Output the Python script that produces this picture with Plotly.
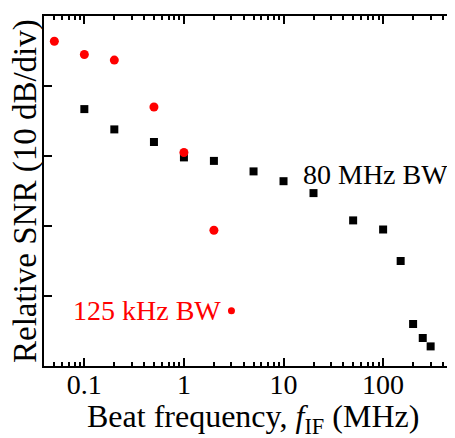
import plotly.graph_objects as go

# beat frequency (MHz) and relative SNR (dB)
f_narrow = [0.05, 0.1, 0.2, 0.5, 1, 2]
snr_narrow = [46.4, 44.5, 43.7, 37.0, 30.5, 19.4]

f_wide = [0.1, 0.2, 0.5, 1, 2, 5, 10, 20, 50, 100, 150, 200, 250, 300]
snr_wide = [36.7, 33.8, 32.0, 29.8, 29.3, 27.8, 26.4, 24.7, 20.8, 19.5, 15.0, 6.0, 4.0, 2.8]

# small red dot next to the "125 kHz BW" label
f_key = [3]
snr_key = [7.9]

red = "#ff0000"
font = "Liberation Serif"

fig = go.Figure()
fig.add_trace(go.Scatter(x=f_wide, y=snr_wide, mode="markers",
                         marker=dict(symbol="square", size=8, color="black")))
fig.add_trace(go.Scatter(x=f_narrow, y=snr_narrow, mode="markers",
                         marker=dict(symbol="circle", size=9, color=red)))
fig.add_trace(go.Scatter(x=f_key, y=snr_key, mode="markers",
                         marker=dict(symbol="circle", size=7, color=red)))

fig.add_annotation(x=1.172, y=27.4, xref="x", yref="y", text="80 MHz BW",
                   xanchor="left", yanchor="middle", showarrow=False,
                   font=dict(family=font, size=28, color="black"))
fig.add_annotation(x=-1.129, y=7.9, xref="x", yref="y", text="125 kHz BW",
                   xanchor="left", yanchor="middle", showarrow=False,
                   font=dict(family=font, size=28, color=red))

# axis titles as annotations so the plot area stays put
fig.add_annotation(x=0.5, y=-0.15, xref="paper", yref="paper",
                   text="Beat frequency, <i>f</i><sub>IF</sub> (MHz)",
                   xanchor="center", yanchor="middle", showarrow=False,
                   font=dict(family=font, size=32, color="black"))
fig.add_annotation(x=-0.0456, y=0.5, xref="paper", yref="paper",
                   text="Relative SNR (10 dB/div)", textangle=-90,
                   xanchor="center", yanchor="middle", showarrow=False,
                   font=dict(family=font, size=33, color="black"))

fig.update_xaxes(type="log", range=[-1.405, 2.782],
                 tickvals=[0.1, 1, 10, 100], ticktext=["0.1", "1", "10", "100"],
                 ticks="inside", ticklen=8, tickwidth=2, tickcolor="black",
                 ticklabelstandoff=-8,
                 minor=dict(ticks="inside", ticklen=4, tickwidth=1.5, tickcolor="black",
                            dtick="D1", showgrid=False),
                 showline=True, linewidth=2, linecolor="black", mirror="allticks",
                 showgrid=False, zeroline=False, automargin=False,
                 tickfont=dict(family=font, size=28, color="black"))
fig.update_yaxes(range=[0, 50], dtick=10, showticklabels=False,
                 ticks="inside", ticklen=8, tickwidth=2, tickcolor="black",
                 showline=True, linewidth=2, linecolor="black", mirror="allticks",
                 showgrid=False, zeroline=False, automargin=False)

# the page adds an 8 px body margin, so the right axis falls just outside the window
fig.update_layout(width=463, height=438, showlegend=False,
                  margin=dict(l=36, r=10, t=8, b=80),
                  plot_bgcolor="white", paper_bgcolor="white")

fig.write_html("out.html")
